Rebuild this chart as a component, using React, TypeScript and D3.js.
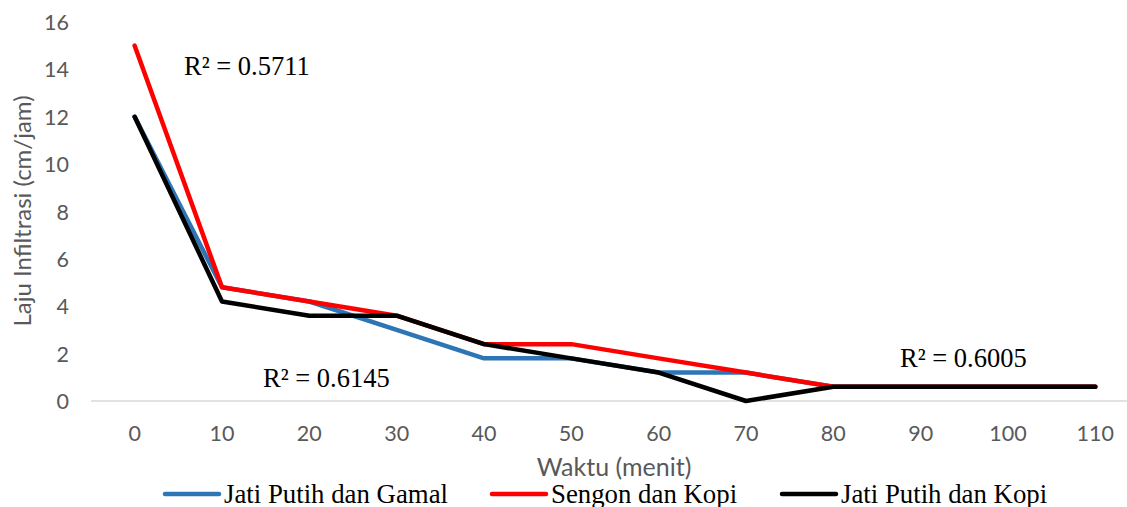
import React from "react";
import * as d3 from "d3";

const categories = ["0", "10", "20", "30", "40", "50", "60", "70", "80", "90", "100", "110"];
const jatiGamal = [12, 4.8, 4.2, 3.0, 1.8, 1.8, 1.2, 1.2, 0.6, 0.6, 0.6, 0.6];
const sengonKopi = [15, 4.8, 4.2, 3.6, 2.4, 2.4, 1.8, 1.2, 0.6, 0.6, 0.6, 0.6];
const jatiKopi = [12, 4.2, 3.6, 3.6, 2.4, 1.8, 1.2, 0, 0.6, 0.6, 0.6, 0.6];
const yTicks = [0, 2, 4, 6, 8, 10, 12, 14, 16];

const seriesNames = ["Jati Putih dan Gamal", "Sengon dan Kopi", "Jati Putih dan Kopi"];
const seriesColors = ["#2E75B6", "#FF0000", "#000000"];
const seriesData = [jatiGamal, sengonKopi, jatiKopi];

const r2Labels = ["R² = 0.5711", "R² = 0.6145", "R² = 0.6005"];

const W = 1127;
const H = 507;

export default function App() {
  const x = d3.scalePoint<string>().domain(categories).range([91, 1139]).padding(0.5);
  const y = d3.scaleLinear().domain([0, 16]).range([401, 22]);
  const line = d3
    .line<number>()
    .x((_, i) => x(categories[i]) as number)
    .y((d) => y(d));

  const sansFont = "Lato, 'Open Sans', sans-serif";
  const serifFont = "'Liberation Serif', 'Times New Roman', serif";
  const gray = "#595959";

  const legendPos = [165, 492, 782];
  const r2Pos = [
    [184, 75],
    [263, 387],
    [900, 367],
  ];

  return (
    <svg
      width={W}
      height={H}
      style={{ position: "absolute", left: 0, top: 0, background: "#fff" }}
    >
      <rect x={0} y={0} width={W} height={H} fill="#fff" />
      {/* zero axis line */}
      <line x1={91} x2={1139} y1={y(0)} y2={y(0)} stroke="#D9D9D9" strokeWidth={1.5} />

      {/* y ticks */}
      {yTicks.map((t) => (
        <text
          key={t}
          x={69}
          y={y(t)}
          textAnchor="end"
          dominantBaseline="central"
          fontFamily={sansFont}
          fontSize={21.5}
          fill={gray}
        >
          {t}
        </text>
      ))}

      {/* x ticks */}
      {categories.map((c) => (
        <text
          key={c}
          x={x(c)}
          y={441}
          textAnchor="middle"
          fontFamily={sansFont}
          fontSize={21.5}
          fill={gray}
        >
          {c}
        </text>
      ))}

      {/* axis titles */}
      <text
        x={614}
        y={476}
        textAnchor="middle"
        fontFamily={sansFont}
        fontSize={25}
        fill={gray}
      >
        Waktu (menit)
      </text>
      <text
        transform={`translate(31, 211) rotate(-90)`}
        textAnchor="middle"
        fontFamily={sansFont}
        fontSize={24}
        fill={gray}
      >
        Laju Infiltrasi (cm/jam)
      </text>

      {/* series */}
      {seriesData.map((d, i) => (
        <path
          key={i}
          d={line(d) || ""}
          fill="none"
          stroke={seriesColors[i]}
          strokeWidth={4.5}
          strokeLinejoin="round"
          strokeLinecap="round"
        />
      ))}

      {/* R2 labels */}
      {r2Labels.map((t, i) => (
        <text
          key={t}
          x={r2Pos[i][0]}
          y={r2Pos[i][1]}
          fontFamily={serifFont}
          fontSize={26.5}
          fill="#000"
        >
          {t}
        </text>
      ))}

      {/* legend */}
      {seriesNames.map((n, i) => (
        <g key={n}>
          <line
            x1={legendPos[i]}
            x2={legendPos[i] + 54}
            y1={494}
            y2={494}
            stroke={seriesColors[i]}
            strokeWidth={4.5}
            strokeLinecap="round"
          />
          <text
            x={legendPos[i] + 59}
            y={503}
            fontFamily={serifFont}
            fontSize={26.8}
            fill="#000"
          >
            {n}
          </text>
        </g>
      ))}
    </svg>
  );
}
